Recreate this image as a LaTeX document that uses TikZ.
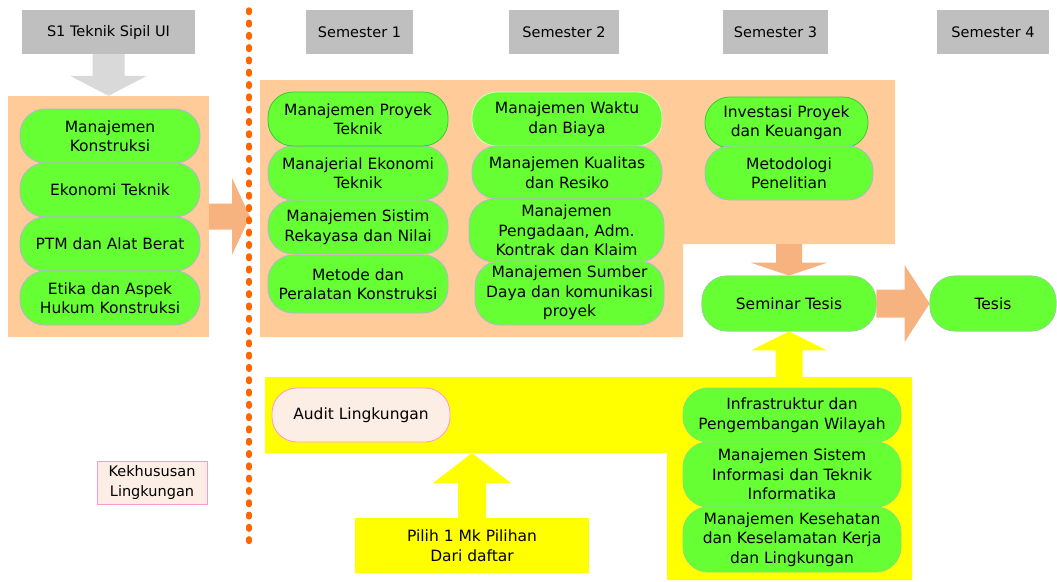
\documentclass[tikz,border=0pt]{standalone}
\usepackage{fontspec}
\setmainfont{DejaVu Sans}
\usetikzlibrary{calc}

\definecolor{peach}{HTML}{FFCC99}
\definecolor{peacharrow}{HTML}{F6B37F}
\definecolor{gfill}{HTML}{66FF33}
\definecolor{gline}{HTML}{B4B4D4}
\definecolor{gdark}{HTML}{33CC33}
\definecolor{hgray}{HTML}{BFBFBF}
\definecolor{agray}{HTML}{D9D9D9}
\definecolor{yel}{HTML}{FFFF00}
\definecolor{pinkfill}{HTML}{FCEEE4}
\definecolor{pinkline}{HTML}{FF99CC}
\definecolor{divider}{HTML}{FF6600}

% block arrow: #1 start, #2 tip, #3 half shaft width, #4 half head width,
% #5 head length, #6 fill colour
\newcommand\blockarrow[6]{%
  \coordinate (hb) at ($(#2)!#5!(#1)$);
  \fill[#6] ($(#1)!#3!90:(#2)$) -- ($(hb)!#3!90:(#2)$) -- ($(hb)!#4!90:(#2)$)
    -- (#2) -- ($(hb)!#4!-90:(#2)$) -- ($(hb)!#3!-90:(#2)$)
    -- ($(#1)!#3!-90:(#2)$) -- cycle;
}

\tikzset{
  txt/.style={font=\fontsize{15.5}{19.5}\selectfont, align=center, inner sep=0pt},
  sz/.style 2 args={minimum width=#1pt, minimum height=#2pt},
  gbox/.style={txt, draw=gline, fill=gfill, rounded corners=25pt, line width=0.8pt},
  hdr/.style={txt, fill=hgray, font=\fontsize{14.5}{18}\selectfont},
  pinkbox/.style={txt, draw=pinkline, fill=pinkfill, line width=0.8pt},
}

\begin{document}
\begin{tikzpicture}[x=1pt, y=-1pt]
\useasboundingbox (0,0) rectangle (1057,581);

% ---- background panels ----
\node[fill=peach, inner sep=0pt, sz={201}{241}] (lpanel) at (108.5,216.5) {};
\fill[peach] (260,80) -- (895,80) -- (895,244) -- (683,244) -- (683,337) -- (260,337) -- cycle;
\fill[yel] (265,377) -- (912,377) -- (912,580) -- (667,580) -- (667,453) -- (265,453) -- cycle;
\coordinate (mpb) at (789,244);
\coordinate (ytop) at (789,377);
\coordinate (yband) at (472,453);
\coordinate (div) at (250,216.5);
\coordinate (divtop) at (249,10);
\coordinate (divbot) at (249,548);

% ---- headers ----
\node[hdr, sz={173}{44}] (s1) at (108.5,32) {S1 Teknik Sipil UI};
\node[hdr, sz={107}{44}] (sem1) at (359.5,32) {Semester 1};
\node[hdr, sz={110}{44}] (sem2) at (564,32) {Semester 2};
\node[hdr, sz={105}{44}] (sem3) at (775.5,32) {Semester 3};
\node[hdr, sz={112}{44}] (sem4) at (993,32) {Semester 4};

% ---- nodes that arrows attach to ----
\node[gbox, sz={174}{55}] (sem) at (789,303.5) {Seminar Tesis};
\node[gbox, sz={126}{55}] (tesis) at (993,303.5) {Tesis};
\node[txt, fill=yel, sz={234}{55}] (pilih) at (472,545.5) {Pilih 1 Mk Pilihan\\Dari daftar};

% ---- block arrows ----
\blockarrow{s1.south}{lpanel.north}{16pt}{38.5pt}{20pt}{agray}
\blockarrow{lpanel.east}{div}{13pt}{38.5pt}{18pt}{peacharrow}
\blockarrow{mpb}{sem.north}{13pt}{38.5pt}{13pt}{peacharrow}
\blockarrow{sem.east}{tesis.west}{14pt}{38.5pt}{25pt}{peacharrow}
\blockarrow{ytop}{sem.south}{13.5pt}{38pt}{19pt}{yel}
\blockarrow{pilih.north}{yband}{14pt}{39pt}{30pt}{yel}

% redraw the end boxes above the arrows
\node[gbox, draw=gfill!60!gline, sz={174}{55}] at (sem) {Seminar Tesis};
\node[gbox, draw=gfill!60!gline, sz={126}{55}] at (tesis) {Tesis};

% ---- dotted divider ----
\draw[divider, line width=5.5pt, line cap=round, dash pattern=on 2.5pt off 9.8pt]
  (divtop) -- (divbot);

% ---- S1 courses ----
\node[gbox, sz={180}{54}] (k1) at (110,136) {Manajemen\\Konstruksi};
\node[gbox, sz={180}{54}] (k2) at (110,190) {Ekonomi Teknik};
\node[gbox, sz={180}{54}] (k3) at (110,244) {PTM dan Alat Berat};
\node[gbox, sz={180}{54}] (k4) at (110,298) {Etika dan Aspek\\Hukum Konstruksi};

% ---- Semester 1 ----
\node[gbox, sz={180}{54}] (a2) at (358,173) {Manajerial Ekonomi\\Teknik};
\node[gbox, sz={180}{54}] (a3) at (358,227) {Manajemen Sistim\\Rekayasa dan Nilai};
\node[gbox, sz={180}{58}] (a4) at (358,284) {Metode dan\\Peralatan Konstruksi};
\node[gbox, draw=gdark, sz={180}{54}] (a1) at (358,119) {Manajemen Proyek\\Teknik};

% ---- Semester 2 ----
\node[gbox, draw=white!70!gfill, sz={190}{54}] (b1) at (567,119) {Manajemen Waktu\\dan Biaya};
\node[gbox, sz={190}{53}] (b2) at (567,172.5) {Manajemen Kualitas\\dan Resiko};
\node[gbox, sz={195}{63}] (b3) at (566.5,230.5) {Manajemen\\Pengadaan, Adm.\\Kontrak dan Klaim};
\node[gbox, sz={189}{64}] (b4) at (569.5,293) {Manajemen Sumber\\Daya dan komunikasi\\proyek};

% ---- Semester 3 ----
\node[gbox, draw=gdark, sz={163}{51}] (c1) at (786.5,122.5) {Investasi Proyek\\dan Keuangan};
\node[gbox, sz={168}{54}] (c2) at (789,173) {Metodologi\\Penelitian};

% ---- electives ----
\node[pinkbox, rounded corners=25pt, sz={178}{54}] (audit) at (361,415) {Audit Lingkungan};
\node[gbox, draw=gfill!60!gline, sz={218}{54}] (d1) at (792,415) {Infrastruktur dan\\Pengembangan Wilayah};
\node[gbox, draw=gfill!60!gline, sz={218}{65}] (d2) at (792,474.5) {Manajemen Sistem\\Informasi dan Teknik\\Informatika};
\node[gbox, draw=gfill!60!gline, sz={218}{65}] (d3) at (792,539.5) {Manajemen Kesehatan\\dan Keselamatan Kerja\\dan Lingkungan};

% ---- legend ----
\node[pinkbox, font=\fontsize{14.5}{20}\selectfont, sz={110}{43}] (kek) at (152,482.5) {Kekhususan\\Lingkungan};
\end{tikzpicture}
\end{document}
